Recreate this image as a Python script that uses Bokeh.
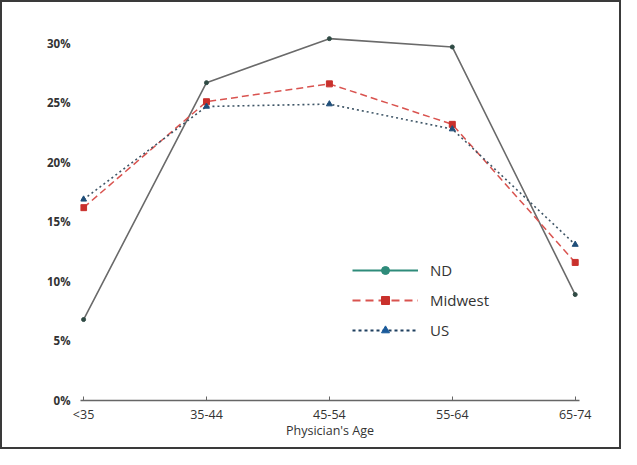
from bokeh.plotting import figure
from bokeh.models import ColumnDataSource, FixedTicker, Legend, LegendItem
from bokeh.embed import file_html
from bokeh.resources import INLINE

categories = ["<35", "35-44", "45-54", "55-64", "65-74"]
nd = [6.8, 26.7, 30.4, 29.7, 8.9]
midwest = [16.2, 25.1, 26.6, 23.2, 11.6]
us = [16.9, 24.7, 24.9, 22.8, 13.1]
y_ticks = [0, 5, 10, 15, 20, 25, 30]

x = list(range(len(categories)))
nan = float("nan")

FONT = "Open Sans"

p = figure(width=621, height=449, output_backend="svg", toolbar_location=None,
           x_range=(-0.025, 4.035), y_range=(0, 31.0),
           min_border_left=78, min_border_right=44, min_border_top=29, min_border_bottom=51)
p.styles = {"border": "2px solid #3a3a3a", "box-sizing": "border-box"}
p.outline_line_color = None
p.xgrid.grid_line_color = None
p.ygrid.grid_line_color = None
p.background_fill_color = "white"

# chart series
src = ColumnDataSource(dict(x=x, nd=nd, mw=midwest, us=us))
p.line("x", "nd", source=src, line_color="#6a6a6a", line_width=1.6)
p.scatter("x", "nd", source=src, marker="circle", size=4, color="#2f4a44")
p.line("x", "mw", source=src, line_color="#d9534f", line_width=1.5, line_dash="7 4")
p.scatter("x", "mw", source=src, marker="square", size=6, color="#c9302c")
p.line("x", "us", source=src, line_color="#3e5566", line_width=1.6, line_dash="2 3")
p.scatter("x", "us", source=src, marker="triangle", size=6, color="#1f4e79")

# legend-only renderers (no visible data)
empty = ColumnDataSource(dict(x=[nan], y=[nan]))
l1 = p.line("x", "y", source=empty, line_color="#2e8b7a", line_width=2)
m1 = p.scatter("x", "y", source=empty, marker="circle", size=11, color="#2e8b7a")
l2 = p.line("x", "y", source=empty, line_color="#d9534f", line_width=2, line_dash="8 5")
m2 = p.scatter("x", "y", source=empty, marker="square", size=10, color="#c9302c")
l3 = p.line("x", "y", source=empty, line_color="#1f3f5f", line_width=2, line_dash="3 3")
m3 = p.scatter("x", "y", source=empty, marker="triangle", size=11, color="#1a5a9a")

legend = Legend(items=[LegendItem(label="ND", renderers=[l1, m1], index=0),
                       LegendItem(label="Midwest", renderers=[l2, m2], index=0),
                       LegendItem(label="US", renderers=[l3, m3], index=0)],
                location=(272, 60), glyph_width=66, glyph_height=20, spacing=10,
                label_standoff=12, label_text_font=FONT, label_text_font_size="15px",
                label_text_color="#333333", padding=0, margin=0,
                background_fill_alpha=0, border_line_color=None)
p.add_layout(legend, "center")

# x axis
p.xaxis.ticker = FixedTicker(ticks=x)
p.xaxis.major_label_overrides = {i: c for i, c in enumerate(categories)}
p.xaxis.axis_label = "Physician's Age"
p.xaxis.axis_label_text_font = FONT
p.xaxis.axis_label_text_font_size = "12.5px"
p.xaxis.axis_label_text_font_style = "normal"
p.xaxis.axis_label_text_color = "#333333"
p.xaxis.axis_label_standoff = -4
p.xaxis.major_label_text_font = FONT
p.xaxis.major_label_text_font_size = "12.5px"
p.xaxis.major_label_text_color = "#333333"
p.xaxis.major_label_standoff = 5
p.xaxis.axis_line_color = "#666666"
p.xaxis.axis_line_width = 1.5
p.xaxis.major_tick_in = 4
p.xaxis.major_tick_out = 0
p.xaxis.major_tick_line_color = "#666666"
p.xaxis.minor_tick_line_color = None

# y axis
p.yaxis.ticker = FixedTicker(ticks=y_ticks)
p.yaxis.major_label_overrides = {t: f"{t}%" for t in y_ticks}
p.yaxis.major_label_text_font = FONT
p.yaxis.major_label_text_font_size = "11.5px"
p.yaxis.major_label_text_font_style = "bold"
p.yaxis.major_label_text_color = "#333333"
p.yaxis.major_label_standoff = 4
p.yaxis.axis_line_color = None
p.yaxis.major_tick_line_color = None
p.yaxis.minor_tick_line_color = None

open("out.html", "w").write(file_html(p, INLINE))
